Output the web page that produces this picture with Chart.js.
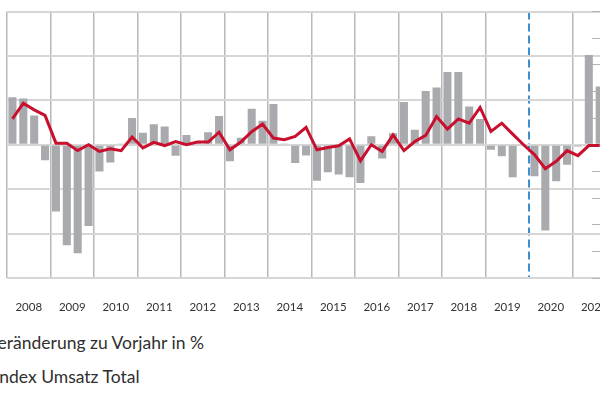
<!DOCTYPE html>
<html lang="de">
<head>
  <meta charset="UTF-8">
  <title>Umsatz Total – Veränderung zu Vorjahr</title>
  <script src="https://cdn.jsdelivr.net/npm/chart.js@4.4.1/dist/chart.umd.min.js"></script>
  <style>
    html, body { margin: 0; padding: 0; background: #fff; overflow: hidden; }
    body { width: 600px; height: 395px; position: relative; font-family: Lato, "Open Sans", sans-serif; color: #2f2f2f; }
    /* the chart is wider than the window, so its left and right ends get cut off */
    #chartBox { position: absolute; left: -60px; top: 0; width: 700px; height: 320px; }
    .legend { position: absolute; display: flex; align-items: center; font-size: 17.5px; line-height: 20px; white-space: nowrap; }
    .swatch { display: inline-block; margin-right: 12px; }
    .swatch.bar { width: 18px; height: 12px; background: #a9aaad; }
    .swatch.line { width: 22px; height: 3px; background: #c8102e; }
  </style>
</head>
<body>
  <div id="chartBox"><canvas id="umsatzChart" width="700" height="320"></canvas></div>

  <div class="legend" style="left:-43px; top:333px;"><span class="swatch bar"></span><span>Veränderung zu Vorjahr in %</span></div>
  <div class="legend" style="left:-39.5px; top:367px;"><span class="swatch line"></span><span>Index Umsatz Total</span></div>

  <script>
    // years shown on the axis, data is quarterly
    const years = ['2008', '2009', '2010', '2011', '2012', '2013', '2014',
                   '2015', '2016', '2017', '2018', '2019', '2020', '2021'];
    const quarters = years.flatMap(y => ['Q1', 'Q2', 'Q3', 'Q4'].map(q => q + ' ' + y));

    // change vs. previous year in % (bars)
    const veraenderung = [
      10.7, 10.4, 6.6, -3.5,      // 2008
      -15.0, -22.6, -24.4, -18.3, // 2009
      -6.0, -4.0, 0.3, 6.0,       // 2010
      2.7, 4.6, 4.1, -2.5,        // 2011
      2.2, 0.5, 2.8, 6.5,         // 2012
      -3.7, 1.6, 8.1, 5.4,        // 2013
      9.2, 0.3, -4.1, -2.4,       // 2014
      -8.1, -6.2, -6.7, -7.3,     // 2015
      -8.6, 1.9, -3.1, 2.6,       // 2016
      9.6, 3.4, 12.1, 12.9,       // 2017
      16.4, 16.4, 8.6, 5.8,       // 2018
      -1.1, -2.6, -7.3, 0.0,      // 2019
      -7.1, -19.3, -8.2, -4.5,    // 2020
      -0.4, 20.2, 13.1, null      // 2021
    ];

    // Index Umsatz Total (line, right axis)
    const indexUmsatz = [
      109.7, 115.6, 113.1, 111.0,
      100.6, 100.6, 97.8, 100.0,
      97.5, 98.5, 97.8, 102.9,
      98.8, 100.9, 99.7, 101.2,
      100.0, 101.0, 101.0, 104.7,
      98.1, 101.0, 104.9, 107.8,
      102.5, 101.9, 103.1, 106.5,
      98.1, 99.0, 99.6, 102.2,
      94.0, 100.0, 97.5, 103.7,
      97.8, 101.2, 103.5, 110.6,
      105.9, 109.7, 108.1, 114.0,
      105.0, 108.1, 104.0, 100.0,
      96.3, 91.0, 93.8, 97.8,
      95.9, 99.7, 99.7, null
    ];

    const yTicks = { min: -30, max: 30, step: 10 };
    const y1Ticks = { min: 50, max: 150, step: 10 };
    const markerYear = '2020';   // dashed line at the start of this year

    const markerIndex = years.indexOf(markerYear);

    const ctx = document.getElementById('umsatzChart').getContext('2d');
    new Chart(ctx, {
      type: 'bar',
      data: {
        labels: quarters,
        datasets: [
          {
            type: 'line',
            label: 'Index Umsatz Total',
            data: indexUmsatz,
            xAxisID: 'xq',
            yAxisID: 'y1',
            borderColor: '#c8102e',
            borderWidth: 3,
            pointRadius: 0,
            tension: 0,
            fill: false,
            order: 0
          },
          {
            label: 'Veränderung zu Vorjahr in %',
            data: veraenderung,
            xAxisID: 'xq',
            yAxisID: 'y',
            backgroundColor: '#a9aaad',
            categoryPercentage: 1,
            barPercentage: 0.74,
            order: 1
          }
        ]
      },
      options: {
        responsive: false,
        animation: false,
        layout: { padding: { top: 11.5, bottom: 0 } },
        plugins: { legend: { display: false }, tooltip: { enabled: false } },
        scales: {
          x: {
            type: 'category',
            labels: years,
            offset: true,
            position: 'bottom',
            grid: {
              offset: true,
              drawTicks: false,
              color: c => c.index === markerIndex ? '#3d8fcf' : '#b8b8b8',
              lineWidth: c => c.index === markerIndex ? 2 : 1.5
            },
            border: {
              display: false,
              dash: c => c.index === markerIndex ? [8, 4] : []
            },
            ticks: {
              color: '#333',
              font: { family: 'Lato', size: 11.5 },
              padding: 22,
              maxRotation: 0,
              autoSkip: false
            },
            afterFit: s => { s.height = 42; }
          },
          xq: {
            type: 'category',
            offset: true,
            display: false
          },
          y: {
            position: 'left',
            min: yTicks.min,
            max: yTicks.max,
            ticks: { stepSize: yTicks.step, display: false },
            grid: { color: '#d6d6d6', lineWidth: 2, drawTicks: false },
            border: { display: false },
            afterFit: s => { s.width = 67; }
          },
          y1: {
            position: 'right',
            min: y1Ticks.min,
            max: y1Ticks.max,
            ticks: { stepSize: y1Ticks.step, display: false },
            grid: { drawOnChartArea: false, drawTicks: true, tickLength: -24, color: '#b5b5b5', lineWidth: 1 },
            border: { display: false },
            afterFit: s => { s.width = 24; }
          }
        }
      }
    });
  </script>
</body>
</html>
